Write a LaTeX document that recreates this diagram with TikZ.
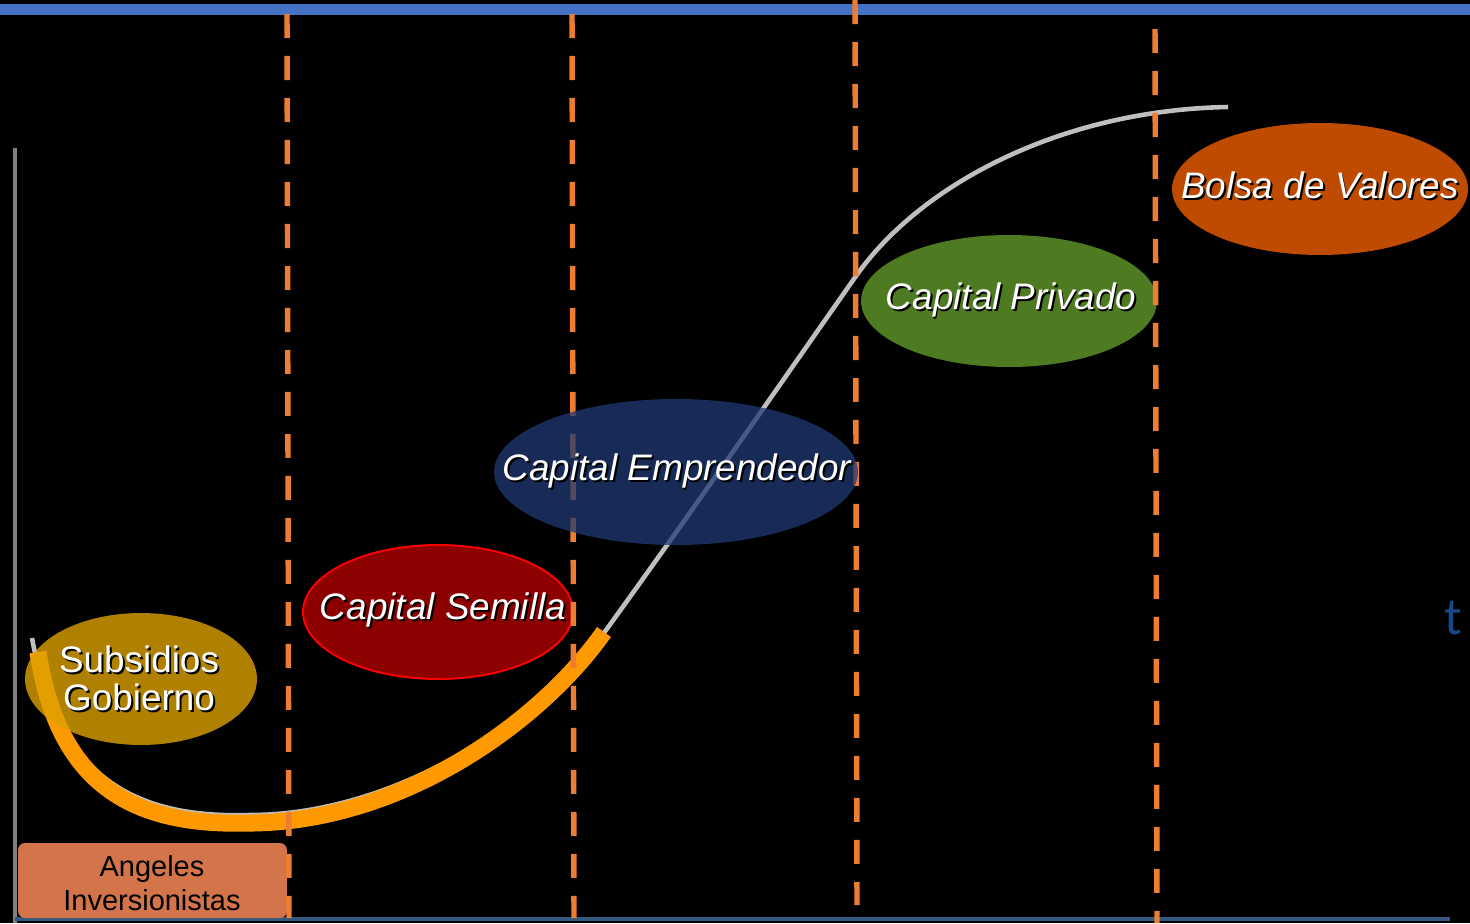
\documentclass[tikz,border=0pt]{standalone}
\usepackage{fontspec}
\setmainfont{Liberation Sans}
\newfontfamily\tfont{Carlito}
\usetikzlibrary{shapes.geometric}

\definecolor{barra}{RGB}{68,114,196}
\definecolor{corte}{RGB}{237,125,49}
\definecolor{curva}{RGB}{191,191,191}
\definecolor{naranja}{RGB}{255,153,0}
\definecolor{subs}{RGB}{220,160,0}
\definecolor{semilla}{RGB}{140,0,0}
\definecolor{empren}{RGB}{32,58,115}
\definecolor{privado}{RGB}{78,122,34}
\definecolor{bolsa}{RGB}{191,75,0}
\definecolor{angeles}{RGB}{212,116,74}
\definecolor{eje}{RGB}{52,88,128}
\definecolor{tiempo}{RGB}{20,72,135}

% texto con sombra
\newcommand{\sombra}[1]{\makebox[0pt][l]{\hspace{1.1pt}\raisebox{-1.1pt}{\color{black}#1}}#1}

\begin{document}
\begin{tikzpicture}[
        x=0.02cm, y=-0.02cm, % 1 unidad = 1 px
        blob/.style={ellipse, inner sep=0pt}, % elipses de las etapas
        texto/.style={text=white, align=center, font=\fontsize{21}{21.6}\selectfont},
        fase/.style={text=white, font=\fontsize{21}{22}\selectfont\itshape},
        corte/.style={draw=corte, line width=3.1pt, dash pattern=on 13.7pt off 10.2pt},
    ]

    \useasboundingbox[fill=black] (0,0) rectangle (1470,923);
    \fill[barra] (0,4) rectangle (1470,15);

    % ejes
    \draw[gray, line width=2.8pt] (15,148) -- (15,923);
    \draw[eje, line width=2.5pt] (15,919) -- (1450,919);

    % curva de crecimiento
    \draw[curva, line width=2.6pt] (32,638) .. controls (60,790) and (150,818) .. (250,815)
        .. controls (400,815) and (547,713) .. (609,626)
        .. controls (700,500) and (790,370) .. (856,276)
        .. controls (920,185) and (1060,110) .. (1228,107);
    \draw[naranja, line width=9.7pt] (38,652) .. controls (60,798) and (148,826) .. (252,823)
        .. controls (405,821) and (542,720) .. (604,632);

    % etapas
    \node[blob, fill=subs, fill opacity=0.8, minimum width=4.64cm, minimum height=2.64cm] (subs) at (141,679) {};
    \node[blob, fill=semilla, draw=red, line width=1.1pt, minimum width=5.4cm, minimum height=2.68cm] (sem) at (438,612) {};
    \node[blob, fill=privado, minimum width=5.92cm, minimum height=2.64cm] (priv) at (1009,301) {};
    \node[blob, fill=bolsa, minimum width=5.92cm, minimum height=2.64cm] (bolsa) at (1320,189) {};
    \node[fill=angeles, rounded corners=4pt, minimum width=5.38cm, minimum height=1.5cm] (ang) at (152.5,880.5) {};

    % cortes
    \draw[corte] (287,14) -- (289,918);
    \draw[corte] (572,14) -- (574,918);
    \draw[corte] (855,0) -- (857,905);
    \draw[corte] (1155,29) -- (1157,923);

    \node[blob, fill=empren, fill opacity=0.75, minimum width=7.28cm, minimum height=2.92cm] (emp) at (676,472) {};

    % rotulos
    \node[texto] (subs-t) at (139,679) {\sombra{Subsidios}\\\sombra{Gobierno}};
    \node[fase] (sem-t) at (443,611) {\sombra{Capital Semilla}};
    \node[fase] (emp-t) at (677,472) {\sombra{Capital Emprendedor}};
    \node[fase] (priv-t) at (1011,301) {\sombra{Capital Privado}};
    \node[fase] (bolsa-t) at (1320,186) {\sombra{Bolsa de Valores}};
    \node[align=center, font=\fontsize{16.5}{19.3}\selectfont] (ang-t) at (152,883) {Angeles\\Inversionistas};
    \node[text=tiempo, font=\tfont\fontsize{30}{30}\selectfont] (t) at (1453,618) {t};
\end{tikzpicture}
\end{document}
